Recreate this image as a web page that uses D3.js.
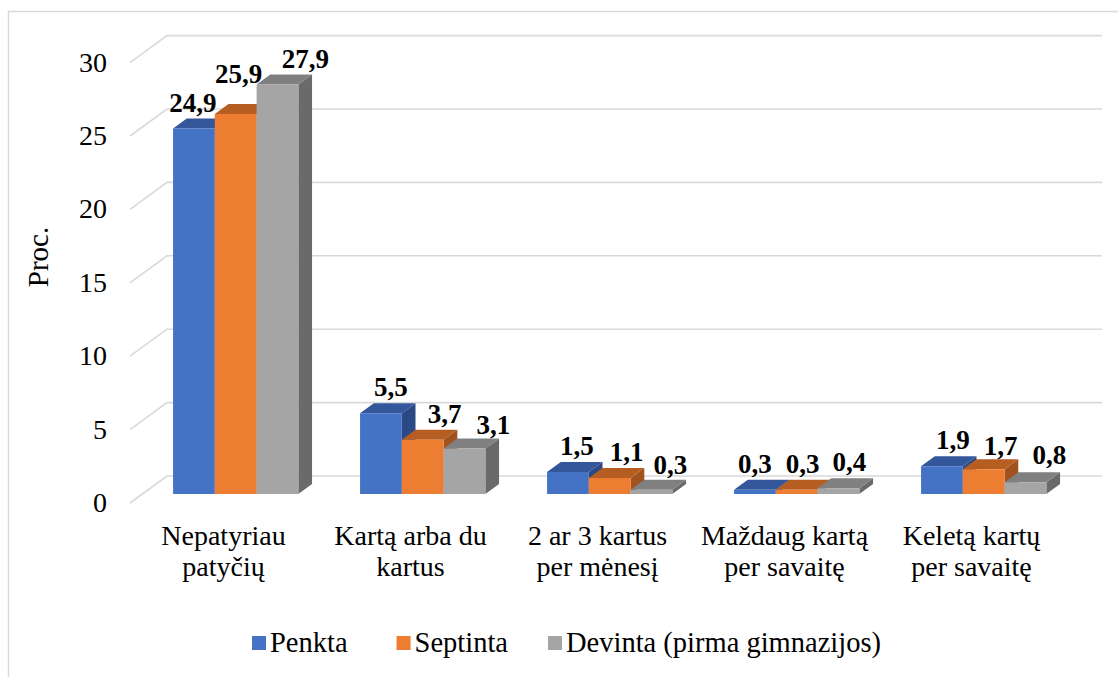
<!DOCTYPE html>
<html lang="lt">
<head>
<meta charset="UTF-8">
<title>Patyčios</title>
<script src="https://d3js.org/d3.v7.min.js"></script>
<style>
  body { margin: 0; background: #fff; }
</style>
</head>
<body>
<svg id="chart" width="1118" height="677"></svg>
<script>
  const categories = [
    ["Nepatyriau", "patyčių"],
    ["Kartą arba du", "kartus"],
    ["2 ar 3 kartus", "per mėnesį"],
    ["Maždaug kartą", "per savaitę"],
    ["Keletą kartų", "per savaitę"]
  ];
  const seriesNames = ["Penkta", "Septinta", "Devinta (pirma gimnazijos)"];
  const penkta = [24.9, 5.5, 1.5, 0.3, 1.9];
  const septinta = [25.9, 3.7, 1.1, 0.3, 1.7];
  const devinta = [27.9, 3.1, 0.3, 0.4, 0.8];
  const yTicks = [0, 5, 10, 15, 20, 25, 30];

  // label nudges (dx, dy) as placed in the original chart
  const labelDx = [[-1, 3, 28], [10, 22, 29], [9, 17, 19], [0, 6, 11], [11, 17, 24]];
  const labelDy = [[0, -14, 0], [0, 0, 2], [0, 0, 1], [0, 0, 0], [0, 3, -1]];

  const values = [penkta, septinta, devinta];
  const frontCol = ["#4472C4", "#ED7D31", "#A5A5A5"];
  const topCol = ["#34569A", "#B65E22", "#808080"];
  const sideCol = ["#2B4A85", "#A2521D", "#6A6A6A"];

  const FONT = '"Liberation Serif"';
  const svg = d3.select("#chart");

  // depth of the 3D box and of the bars
  const DX = 37, DY = -27;
  const z0 = 0.33, z1 = 0.7;

  const y = d3.scaleLinear().domain([0, 30]).range([503, 62.6]);
  const x = d3.scaleBand().domain(d3.range(categories.length))
    .range([130, 1065]).paddingInner(0.33).paddingOuter(0.165);
  const xs = d3.scaleBand().domain(d3.range(seriesNames.length))
    .range([0, x.bandwidth()]);

  const proj = (px, v, z) => [px + DX * z, y(v) + DY * z];

  // chart border
  svg.append("path")
    .attr("d", "M8.5,680 V11.5 H1120")
    .attr("fill", "none").attr("stroke", "#d9d9d9").attr("stroke-width", 1.5);

  // gridlines on back wall + floor diagonals
  const grid = svg.append("g").attr("stroke", "#d9d9d9").attr("stroke-width", 1.6).attr("fill", "none");
  yTicks.forEach(t => {
    const a = proj(130, t, 0), b = proj(130, t, 1), c = proj(1065, t, 1);
    grid.append("path").attr("d", `M${a}L${b}L${c}`);
  });

  // y tick labels
  svg.append("g").selectAll("text").data(yTicks).join("text")
    .attr("x", 107).attr("y", d => y(d) + 9)
    .attr("text-anchor", "end").attr("font-size", 28)
    .style("font-family", FONT)
    .text(d => d);

  svg.append("text")
    .attr("transform", "translate(48,257) rotate(-90)")
    .attr("text-anchor", "middle").attr("font-size", 29)
    .style("font-family", FONT)
    .text("Proc.");

  // bars
  const bars = svg.append("g");
  categories.forEach((cat, i) => {
    values.forEach((vals, j) => {
      const v = vals[i];
      const xl = x(i) + xs(j), xr = xl + xs.bandwidth();
      const ftl = proj(xl, v, z0), ftr = proj(xr, v, z0), fbr = proj(xr, 0, z0), fbl = proj(xl, 0, z0);
      const btl = proj(xl, v, z1), btr = proj(xr, v, z1), bbr = proj(xr, 0, z1);
      bars.append("path").attr("d", `M${ftr}L${btr}L${bbr}L${fbr}Z`).attr("fill", sideCol[j]);
      bars.append("path").attr("d", `M${ftl}L${ftr}L${btr}L${btl}Z`).attr("fill", topCol[j]);
      bars.append("path").attr("d", `M${ftl}L${ftr}L${fbr}L${fbl}Z`).attr("fill", frontCol[j]);
    });
  });

  // value labels
  const labels = svg.append("g");
  categories.forEach((cat, i) => {
    values.forEach((vals, j) => {
      const v = vals[i];
      const cx = x(i) + xs(j) + xs.bandwidth() / 2 + DX * z0;
      labels.append("text")
        .attr("x", cx + labelDx[i][j])
        .attr("y", y(v) + DY * z1 - 7 + labelDy[i][j])
        .attr("text-anchor", "middle").attr("font-size", 27).attr("font-weight", "bold")
        .style("font-family", FONT)
        .text(String(v).replace(".", ","));
    });
  });

  // category labels
  const catG = svg.append("g");
  categories.forEach((lines, i) => {
    const t = catG.append("text")
      .attr("x", x(i) + x.bandwidth() / 2)
      .attr("y", 545)
      .attr("text-anchor", "middle").attr("font-size", 28)
      .style("font-family", FONT);
    lines.forEach((ln, k) => {
      t.append("tspan").attr("x", x(i) + x.bandwidth() / 2).attr("dy", k ? 31 : 0).text(ln);
    });
  });

  // legend
  const legend = svg.append("g");
  let lx = 252;
  seriesNames.forEach((name, j) => {
    legend.append("rect").attr("x", lx).attr("y", 636).attr("width", 14).attr("height", 14).attr("fill", frontCol[j]);
    const t = legend.append("text").attr("x", lx + 18).attr("y", 652).attr("font-size", 28.5)
      .style("font-family", FONT).text(name);
    lx += 18 + t.node().getComputedTextLength() + (j === 0 ? 49 : 40);
  });
</script>
</body>
</html>
